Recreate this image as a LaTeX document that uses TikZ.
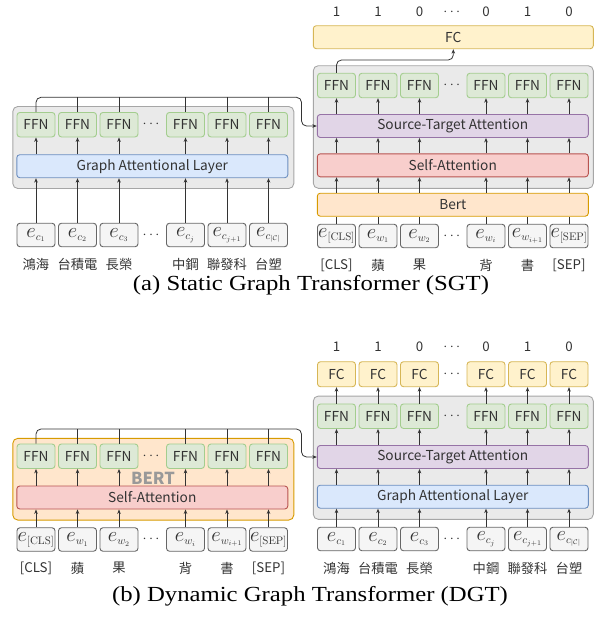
\documentclass[tikz,border=0pt]{standalone}
\usepackage[no-math]{fontspec}
\setmainfont{Liberation Serif}
\newfontfamily\cjk{Noto Sans CJK TC}
\usepackage{amsmath,amssymb}
\usetikzlibrary{arrows.meta,positioning}
\DeclareMathSizes{20}{20}{10.8}{7.5}

\definecolor{txt}{HTML}{333333}
\definecolor{lin}{HTML}{333333}
\definecolor{ffnfill}{HTML}{DDE9D6}
\definecolor{ffnline}{HTML}{A3CD8E}
\definecolor{embfill}{HTML}{F5F5F5}
\definecolor{embline}{HTML}{666666}
\definecolor{panelfill}{HTML}{EAEAEA}
\definecolor{panelline}{HTML}{A6A6A6}
\definecolor{galfill}{HTML}{DAE8FC}
\definecolor{galline}{HTML}{6C8EBF}
\definecolor{stfill}{HTML}{E1D5E7}
\definecolor{stline}{HTML}{9673A6}
\definecolor{safill}{HTML}{F8CECC}
\definecolor{saline}{HTML}{B85450}
\definecolor{bertfill}{HTML}{FFE6CC}
\definecolor{bertline}{HTML}{D79B00}
\definecolor{fcfill}{HTML}{FFF2CC}
\definecolor{fcline}{HTML}{D6B656}

\tikzset{
	box/.style={rounded corners=3pt, line width=0.9pt, inner sep=0pt, text=txt,
			font=\cjk\fontsize{13.7}{16}\selectfont},
	ffn/.style={box, draw=ffnline, fill=ffnfill, minimum width=38pt, minimum height=24.5pt},
	emb/.style={box, draw=embline, fill=embfill, minimum width=38pt, minimum height=23.5pt,
			font=\fontsize{20}{20}\selectfont},
	fc/.style={box, draw=fcline, fill=fcfill, minimum height=23pt},
	bar/.style={box, minimum width=271pt, minimum height=23pt},
	panel/.style={rounded corners=5pt, line width=0.9pt, draw=panelline, fill=panelfill, inner sep=0pt},
	word/.style={font=\cjk\fontsize{13.3}{16}\selectfont, text=txt},
	dots/.style={font=\fontsize{15}{15}\selectfont, text=txt},
	arr/.style={-{Stealth[length=4.5pt,width=3.6pt]}, draw=lin, line width=0.8pt},
	lnk/.style={draw=lin, line width=0.8pt, rounded corners=5pt},
	caption/.style={font=\fontsize{21.5}{24}\selectfont}
}
\def\colsL{36,77.5,119,185.5,227,268.5}
\def\colsR{336.5,378,419.5,486,527.5,569}

\begin{document}
\begin{tikzpicture}[x=1pt, y=-1pt]
	\useasboundingbox (0,0) rectangle (596,621);

	% (a) graph encoder
	\node[panel, minimum width=281pt, minimum height=82pt] (aLbox) at (153.3,147.5) {};
	\foreach \x [count=\i] in \colsL
		\node[ffn] (aLffn\i) at (\x,124.7) {FFN};
	\node[bar, draw=galline, fill=galfill] (aLgal) at (152.3,166.2) {Graph Attentional Layer};
	\foreach \x/\lab [count=\i] in {36/{e_{c_1}},77.5/{e_{c_2}},119/{e_{c_3}},185.5/{e_{c_j}},227/{e_{c_{j+1}}},268.5/{e_{c_{|\mathcal{C}|}}}}
		\node[emb] (aLe\i) at (\x,235) {$\lab$};
	\foreach \x/\w [count=\i] in {36/鴻海,77.5/台積電,119/長榮,185.5/中鋼,227/聯發科,268.5/台塑}
		\node[word] (aLw\i) at (\x,264) {\w};
	\node[dots] (aLdf) at (152.3,124.7) {$\cdots$};
	\node[dots] (aLde) at (152.3,235) {$\cdots$};
	\foreach \i in {1,...,6} {
			\draw[arr] (aLe\i) -- (aLgal.south -| aLe\i);
			\draw[arr] (aLgal.north -| aLffn\i) -- (aLffn\i);
		}

	% (a) sentence encoder
	\foreach \x/\n [count=\i] in {336.5/1,378/1,419.5/0,486/0,527.5/1,569/0}
		\node[word] (aRn\i) at (\x,12) {\n};
	\node[dots] (aRdn) at (453,12) {$\cdots$};
	\node[fc, minimum width=280pt] (aFC) at (453.3,37.2) {FC};
	\node[panel, minimum width=280pt, minimum height=122.6pt] (aRbox) at (453.3,127) {};
	\foreach \x [count=\i] in \colsR
		\node[ffn] (aRffn\i) at (\x,85.5) {FFN};
	\node[bar, draw=stline, fill=stfill] (aRst) at (452.8,126) {Source-Target Attention};
	\node[bar, draw=saline, fill=safill] (aRsa) at (452.8,165.3) {Self-Attention};
	\node[bar, draw=bertline, fill=bertfill] (aRbert) at (452.8,204.7) {Bert};
	\foreach \x/\lab [count=\i] in {336.5/{e_{\mathrm{[CLS]}}},378/{e_{w_1}},419.5/{e_{w_2}},486/{e_{w_i}},527.5/{e_{w_{i+1}}},569/{e_{\mathrm{[SEP]}}}}
		\node[emb] (aRe\i) at (\x,236) {$\lab$};
	\foreach \x/\w [count=\i] in {336.5/{[CLS]},378/蘋,419.5/果,486/背,527.5/書,569/{[SEP]}}
		\node[word] (aRw\i) at (\x,265) {\w};
	\node[dots] (aRdf) at (453,85.5) {$\cdots$};
	\node[dots] (aRde) at (453,236) {$\cdots$};
	\foreach \i in {1,...,6} {
			\draw[lnk] (aRe\i) -- (aRbert.south -| aRe\i);
			\draw[arr] (aRbert.north -| aRe\i) -- (aRsa.south -| aRe\i);
			\draw[arr] (aRsa.north -| aRffn\i) -- (aRst.south -| aRffn\i);
			\draw[arr] (aRst.north -| aRffn\i) -- (aRffn\i);
		}

	% (a) links
	\coordinate (aTurn) at (301.5,97.3);
	\coordinate (aUp) at (453.3,60);
	\draw[lnk, arr] (aLffn1) |- (aTurn) |- (aRst.west);
	\foreach \i in {2,...,6}
		\draw[lnk] (aLffn\i) -- (aLffn\i |- aTurn);
	\draw[lnk, arr] (aRffn1) |- (aUp) -- (aFC.south);
	\node[caption] (capA) at (311,285) {\scalebox{1.15}[1]{(a) Static Graph Transformer (SGT)}};

	% (b) sentence encoder
	\node[panel, draw=bertline, fill=bertfill, minimum width=281pt, minimum height=81.7pt] (bLbox) at (153.3,479.2) {};
	\node[font=\cjk\bfseries\fontsize{16.5}{18}\selectfont, text=black!40] (bLbert) at (153,478) {BERT};
	\foreach \x [count=\i] in \colsL
		\node[ffn] (bLffn\i) at (\x,456.2) {FFN};
	\node[bar, draw=saline, fill=safill] (bLsa) at (152.3,497.5) {Self-Attention};
	\foreach \x/\lab [count=\i] in {36/{e_{\mathrm{[CLS]}}},77.5/{e_{w_1}},119/{e_{w_2}},185.5/{e_{w_i}},227/{e_{w_{i+1}}},268.5/{e_{\mathrm{[SEP]}}}}
		\node[emb] (bLe\i) at (\x,539.5) {$\lab$};
	\foreach \x/\w [count=\i] in {36/{[CLS]},77.5/蘋,119/果,185.5/背,227/書,268.5/{[SEP]}}
		\node[word] (bLw\i) at (\x,568) {\w};
	\node[dots] (bLdf) at (152.3,456.2) {$\cdots$};
	\node[dots] (bLde) at (152.3,539.5) {$\cdots$};
	\foreach \i in {1,...,6} {
			\draw[arr] (bLe\i) -- (bLsa.south -| bLe\i);
			\draw[arr] (bLsa.north -| bLffn\i) -- (bLffn\i);
		}

	% (b) graph encoder
	\foreach \x/\n [count=\i] in {336.5/1,378/1,419.5/0,486/0,527.5/1,569/0}
		\node[word] (bRn\i) at (\x,347) {\n};
	\node[dots] (bRdn) at (453,347) {$\cdots$};
	\node[panel, minimum width=280pt, minimum height=123.3pt] (bRbox) at (453.3,457.7) {};
	\foreach \x [count=\i] in \colsR {
			\node[fc, minimum width=38pt, minimum height=25pt] (bRfc\i) at (\x,374.2) {FC};
			\node[ffn] (bRffn\i) at (\x,416.2) {FFN};
		}
	\node[bar, draw=stline, fill=stfill] (bRst) at (452.8,457) {Source-Target Attention};
	\node[bar, draw=galline, fill=galfill] (bRgal) at (452.8,496.7) {Graph Attentional Layer};
	\foreach \x/\lab [count=\i] in {336.5/{e_{c_1}},378/{e_{c_2}},419.5/{e_{c_3}},486/{e_{c_j}},527.5/{e_{c_{j+1}}},569/{e_{c_{|\mathcal{C}|}}}}
		\node[emb] (bRe\i) at (\x,539) {$\lab$};
	\foreach \x/\w [count=\i] in {336.5/鴻海,378/台積電,419.5/長榮,486/中鋼,527.5/聯發科,569/台塑}
		\node[word] (bRw\i) at (\x,568) {\w};
	\node[dots] (bRdc) at (453,374.2) {$\cdots$};
	\node[dots] (bRdf) at (453,416.2) {$\cdots$};
	\node[dots] (bRde) at (453,539) {$\cdots$};
	\foreach \i in {1,...,6} {
			\draw[arr] (bRe\i) -- (bRgal.south -| bRe\i);
			\draw[arr] (bRgal.north -| bRffn\i) -- (bRst.south -| bRffn\i);
			\draw[arr] (bRst.north -| bRffn\i) -- (bRffn\i);
			\draw[arr] (bRffn\i) -- (bRfc\i);
		}

	% (b) links
	\coordinate (bTurn) at (301.5,429);
	\draw[lnk, arr] (bLffn1) |- (bTurn) |- (bRst.west);
	\foreach \i in {2,...,6}
		\draw[lnk] (bLffn\i) -- (bLffn\i |- bTurn);
	\node[caption] (capB) at (310,596) {\scalebox{1.15}[1]{(b) Dynamic Graph Transformer (DGT)}};
\end{tikzpicture}
\end{document}
